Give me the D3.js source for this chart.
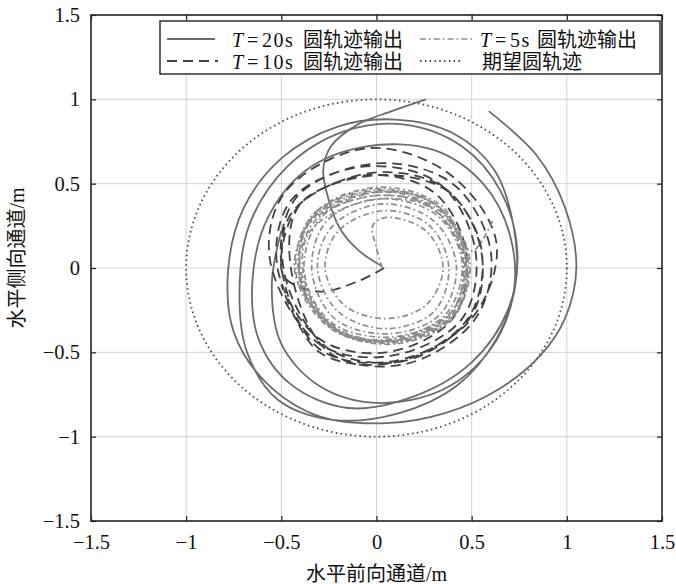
<!DOCTYPE html>
<html>
<head>
<meta charset="utf-8">
<script src="https://cdn.jsdelivr.net/npm/d3@7"></script>
<style>
  body { margin: 0; background: #fff; }
  text { font-family: "Liberation Serif", "Noto Sans CJK SC", serif; fill: #111; }
</style>
</head>
<body>
<svg id="chart" width="676" height="584"></svg>
<script>
// Axis ticks (both axes share the same range)
const tickValues = [-1.5, -1, -0.5, 0, 0.5, 1, 1.5];
const tickLabels = ["\u22121.5", "\u22121", "\u22120.5", "0", "0.5", "1", "1.5"];

// Reference circle: centre and radius (m)
const desiredCenter = [0, 0];
const desiredRadius = 1;

// T = 20 s output: take-off segment, then the orbiting part
const t20LeadIn = [
  [0.03, 0.01], [-0.09, 0.1], [-0.19, 0.23], [-0.25, 0.4], [-0.28, 0.58],
  [-0.24, 0.72], [-0.1, 0.85], [0.08, 0.93], [0.26, 1.0]
];
const t20Orbit = [
  [0.59, 0.93], [0.84, 0.67], [0.99, 0.36], [1.05, 0.0], [0.99, -0.3],
  [0.86, -0.52], [0.64, -0.72], [0.36, -0.86], [0.05, -0.92], [-0.3, -0.88],
  [-0.58, -0.68], [-0.75, -0.38], [-0.78, -0.02], [-0.7, 0.35], [-0.5, 0.65],
  [-0.2, 0.84], [0.1, 0.88], [0.4, 0.8], [0.62, 0.58], [0.72, 0.25],
  [0.73, -0.1], [0.63, -0.42], [0.42, -0.7], [0.12, -0.86], [-0.23, -0.9],
  [-0.52, -0.78], [-0.68, -0.5], [-0.72, -0.15], [-0.67, 0.25], [-0.47, 0.6],
  [-0.17, 0.81], [0.15, 0.85], [0.45, 0.72], [0.65, 0.46], [0.74, 0.1],
  [0.69, -0.25], [0.5, -0.56], [0.2, -0.76], [-0.15, -0.83], [-0.45, -0.69],
  [-0.62, -0.42], [-0.65, -0.05], [-0.57, 0.3], [-0.37, 0.58], [-0.06, 0.72],
  [0.3, 0.7], [0.56, 0.5], [0.7, 0.2], [0.72, -0.15], [0.6, -0.48],
  [0.35, -0.72], [0.0, -0.8], [-0.3, -0.7], [-0.5, -0.45], [-0.55, -0.1],
  [-0.5, 0.22]
];

// T = 10 s output
const t10Track = [
  [0.04, 0.0], [-0.1, -0.08], [-0.3, -0.14], [-0.48, -0.06],
  [-0.5, 0.08], [-0.4, 0.38], [-0.05, 0.55], [0.3, 0.45], [0.47, 0.1],
  [0.4, -0.3], [0.05, -0.5], [-0.3, -0.42],
  [-0.52, 0.0], [-0.45, 0.4], [-0.08, 0.6], [0.33, 0.5], [0.52, 0.1],
  [0.45, -0.3], [0.08, -0.52], [-0.3, -0.45],
  [-0.56, 0.05], [-0.48, 0.45], [-0.05, 0.71], [0.38, 0.56], [0.63, 0.15],
  [0.5, -0.3], [0.1, -0.55], [-0.3, -0.48],
  [-0.5, 0.02], [-0.42, 0.42], [0.0, 0.62], [0.4, 0.5], [0.6, 0.1],
  [0.52, -0.3], [0.15, -0.57], [-0.25, -0.5],
  [-0.45, 0.0], [-0.4, 0.38], [0.0, 0.55], [0.38, 0.45], [0.55, 0.1],
  [0.5, -0.28], [0.15, -0.55], [-0.25, -0.48],
  [-0.48, -0.05], [-0.45, 0.32], [-0.05, 0.56], [0.35, 0.48], [0.55, 0.12],
  [0.48, -0.3], [0.1, -0.56], [-0.3, -0.5], [-0.5, -0.1]
];

// T = 5 s output
const t5Track = [
  [0.03, 0.0], [0.0, 0.12], [-0.02, 0.25],
  [0.05, 0.3], [0.26, 0.22], [0.35, 0.0], [0.26, -0.22], [0.05, -0.3], [-0.17, -0.22], [-0.27, 0.0], [-0.2, 0.22],
  [0.04, 0.34], [0.28, 0.25], [0.38, 0.0], [0.3, -0.26], [0.05, -0.36], [-0.2, -0.26], [-0.31, 0.0], [-0.23, 0.25],
  [0.03, 0.38], [0.3, 0.28], [0.42, 0.01], [0.33, -0.28], [0.06, -0.39], [-0.22, -0.3], [-0.34, -0.01], [-0.26, 0.28],
  [0.02, 0.41], [0.32, 0.31], [0.45, 0.03], [0.36, -0.28], [0.07, -0.41], [-0.24, -0.32], [-0.38, -0.02], [-0.29, 0.3],
  [0.02, 0.45], [0.33, 0.34], [0.47, 0.04], [0.38, -0.3], [0.08, -0.44], [-0.25, -0.34], [-0.41, -0.03], [-0.32, 0.32],
  [0.0, 0.47], [0.33, 0.36], [0.49, 0.05], [0.4, -0.3], [0.1, -0.45], [-0.24, -0.36], [-0.42, -0.05], [-0.34, 0.31],
  [0.0, 0.46], [0.32, 0.37], [0.48, 0.06], [0.41, -0.28], [0.12, -0.44], [-0.22, -0.37], [-0.4, -0.07], [-0.35, 0.28],
  [-0.03, 0.45], [0.3, 0.38], [0.47, 0.08], [0.42, -0.26], [0.14, -0.43], [-0.2, -0.38], [-0.39, -0.09], [-0.36, 0.26],
  [-0.05, 0.44], [0.28, 0.4], [0.46, 0.1], [0.43, -0.24], [0.15, -0.42], [-0.18, -0.39], [-0.38, -0.1], [-0.37, 0.24],
  [-0.06, 0.42], [0.26, 0.38], [0.44, 0.12], [0.42, -0.22], [0.16, -0.4], [-0.16, -0.4], [-0.36, -0.14], [-0.36, 0.2],
  [-0.04, 0.4], [0.28, 0.36], [0.45, 0.08], [0.4, -0.25], [0.12, -0.42], [-0.2, -0.37], [-0.4, -0.08], [-0.33, 0.27],
  [0.0, 0.43], [0.3, 0.35], [0.46, 0.06], [0.39, -0.27], [0.1, -0.43], [-0.22, -0.35], [-0.43, -0.02], [-0.31, 0.34],
  [0.02, 0.48], [0.34, 0.37], [0.5, 0.1], [0.61, 0.28]
];

// Legend entries
const legendPeriods = ["20s", "10s", "5s"];
const legendLabels = ["\u5706\u8f68\u8ff9\u8f93\u51fa", "\u5706\u8f68\u8ff9\u8f93\u51fa", "\u5706\u8f68\u8ff9\u8f93\u51fa", "\u671f\u671b\u5706\u8f68\u8ff9"];
const xTitle = "\u6c34\u5e73\u524d\u5411\u901a\u9053/m";
const yTitle = "\u6c34\u5e73\u4fa7\u5411\u901a\u9053/m";

// ---- drawing ----
const svg = d3.select("#chart");
const pL = 91, pR = 662, pT = 15, pB = 521;
const x = d3.scaleLinear().domain([-1.5, 1.5]).range([pL, pR]);
const y = d3.scaleLinear().domain([-1.5, 1.5]).range([pB, pT]);

const styles = {
  t20: { stroke: "#6c6c6c", width: 1.8, dash: null },
  t10: { stroke: "#424242", width: 1.8, dash: "10,6" },
  t5:  { stroke: "#8c8c8c", width: 1.7, dash: "6,3,1.8,3" },
  ref: { stroke: "#505050", width: 1.8, dash: "1.6,3.2" }
};

// grid
const grid = svg.append("g").attr("stroke", "#d2d2d2").attr("stroke-width", 1);
tickValues.slice(1, -1).forEach(v => {
  grid.append("line").attr("x1", x(v)).attr("x2", x(v)).attr("y1", pT).attr("y2", pB);
  grid.append("line").attr("y1", y(v)).attr("y2", y(v)).attr("x1", pL).attr("x2", pR);
});

// reference circle
svg.append("ellipse")
  .attr("cx", x(desiredCenter[0])).attr("cy", y(desiredCenter[1]))
  .attr("rx", x(desiredRadius) - x(0)).attr("ry", y(0) - y(desiredRadius))
  .attr("fill", "none").attr("stroke", styles.ref.stroke)
  .attr("stroke-width", styles.ref.width).attr("stroke-dasharray", styles.ref.dash);

const line = d3.line().x(d => x(d[0])).y(d => y(d[1])).curve(d3.curveCatmullRom.alpha(0.5));
function track(data, s) {
  svg.append("path").datum(data).attr("d", line)
    .attr("fill", "none").attr("stroke", s.stroke).attr("stroke-width", s.width)
    .attr("stroke-dasharray", s.dash).attr("stroke-linejoin", "round");
}
track(t20LeadIn, styles.t20);
track(t20Orbit, styles.t20);
track(t10Track, styles.t10);
track(t5Track, styles.t5);

// axes frame with inward ticks on all sides
const axes = svg.append("g");
const tl = 5;
axes.append("g").attr("transform", `translate(0,${pB})`)
  .call(d3.axisBottom(x).tickValues(tickValues).tickSize(-tl).tickFormat((d, i) => tickLabels[i]).tickPadding(13));
axes.append("g").attr("transform", `translate(0,${pT})`)
  .call(d3.axisTop(x).tickValues(tickValues).tickSize(-tl).tickFormat(""));
axes.append("g").attr("transform", `translate(${pL},0)`)
  .call(d3.axisLeft(y).tickValues(tickValues).tickSize(-tl).tickFormat((d, i) => tickLabels[i]).tickPadding(11));
axes.append("g").attr("transform", `translate(${pR},0)`)
  .call(d3.axisRight(y).tickValues(tickValues).tickSize(-tl).tickFormat(""));
axes.selectAll(".domain").remove();
axes.selectAll(".tick line").attr("stroke", "#222").attr("stroke-width", 1.2);
axes.selectAll(".tick text").attr("font-size", 20.5).attr("font-family", "Liberation Serif").attr("fill", "#111");
svg.append("rect").attr("x", pL).attr("y", pT).attr("width", pR - pL).attr("height", pB - pT)
  .attr("fill", "none").attr("stroke", "#222").attr("stroke-width", 1.6);

// axis titles
svg.append("text").attr("x", (pL + pR) / 2).attr("y", 581).attr("text-anchor", "middle")
  .attr("font-size", 20).text(xTitle);
svg.append("text").attr("transform", "translate(24,258) rotate(-90)")
  .attr("text-anchor", "middle").attr("font-size", 20).text(yTitle);

// legend
const lg = svg.append("g");
lg.append("rect").attr("x", 160).attr("y", 21).attr("width", 500).attr("height", 53)
  .attr("fill", "#fff").attr("stroke", "#222").attr("stroke-width", 1.4);
const entries = [
  { s: styles.t20, period: legendPeriods[0], label: legendLabels[0], lx: 167, lw: 48, tx: 232, cx: 303, row: 0 },
  { s: styles.t10, period: legendPeriods[1], label: legendLabels[1], lx: 167, lw: 51, tx: 232, cx: 303, row: 1 },
  { s: styles.t5,  period: legendPeriods[2], label: legendLabels[2], lx: 420, lw: 52, tx: 480, cx: 537, row: 0 },
  { s: styles.ref, period: null,             label: legendLabels[3], lx: 420, lw: 43, tx: 482, cx: 482, row: 1 }
];
entries.forEach(e => {
  const cy = 39 + e.row * 22;
  lg.append("line").attr("x1", e.lx).attr("x2", e.lx + e.lw).attr("y1", cy).attr("y2", cy)
    .attr("stroke", e.s.stroke).attr("stroke-width", e.s.width).attr("stroke-dasharray", e.s.dash);
  const t = lg.append("text").attr("y", cy + 8).attr("font-size", 20);
  if (e.period) {
    t.append("tspan").attr("x", e.tx).attr("font-style", "italic").text("T");
    t.append("tspan").attr("x", e.tx + 15).text("=");
    t.append("tspan").attr("x", e.tx + 30).attr("letter-spacing", 1.5).text(e.period);
  }
  t.append("tspan").attr("x", e.cx).text(e.label);
});
</script>
</body>
</html>
